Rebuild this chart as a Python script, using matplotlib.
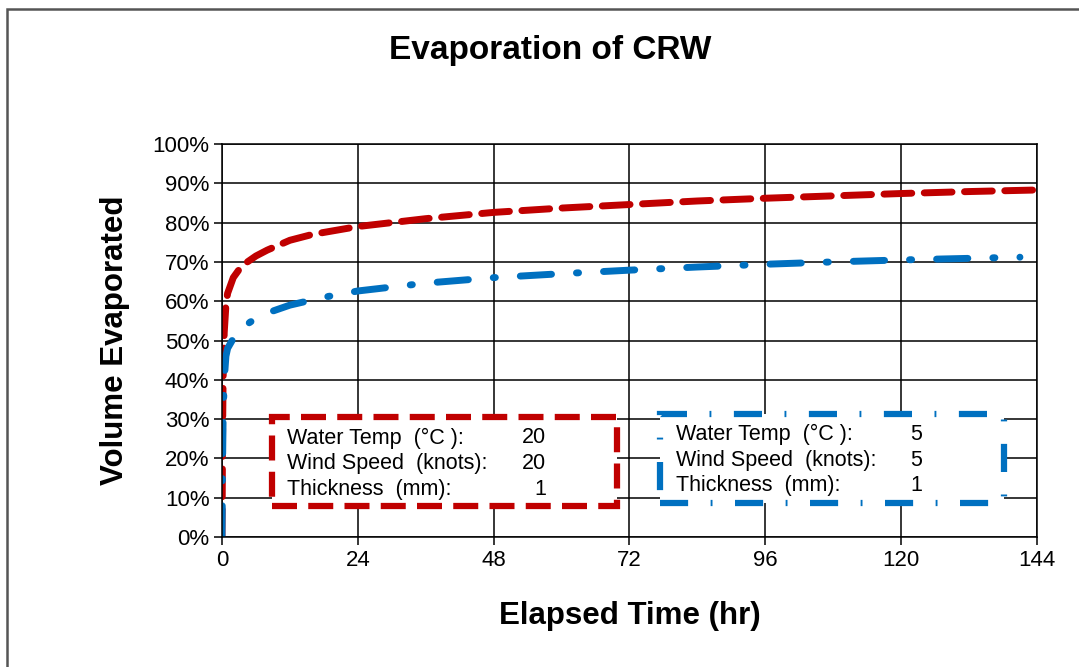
import numpy as np
import matplotlib.pyplot as plt
from matplotlib.patches import Rectangle
from matplotlib.ticker import PercentFormatter

plt.rcParams['font.family'] = ['Liberation Sans', 'DejaVu Sans']

# Evaporation curves (hours, percent evaporated)
red_t = [0, 0.05, 0.1, 0.2, 0.4, 0.7, 1, 2, 3, 4, 6, 8, 12, 16, 24, 36, 48,
         60, 72, 84, 96, 108, 120, 132, 144]
red_v = [0, 10, 25, 40, 52, 59, 62, 66, 68, 69.5, 71.5, 73, 75.5, 77, 79,
         81, 82.6, 83.7, 84.6, 85.5, 86.2, 86.8, 87.4, 87.9, 88.3]

blue_t = [0, 0.05, 0.1, 0.2, 0.4, 0.7, 1, 2, 3, 5, 8, 12, 18, 24, 36, 48,
          60, 72, 84, 96, 108, 120, 132, 141]
blue_v = [0, 8, 18, 30, 40, 46, 48, 50.5, 52.5, 54.7, 57, 59, 61, 62.6,
          64.6, 66, 67, 67.9, 68.7, 69.4, 70, 70.5, 70.9, 71.2]

x_ticks = [0, 24, 48, 72, 96, 120, 144]
y_ticks = [0, 10, 20, 30, 40, 50, 60, 70, 80, 90, 100]

labels = ["Water Temp  (°C ):", "Wind Speed  (knots):", "Thickness  (mm):"]
red_params = ["20", "20", "1"]
blue_params = ["5", "5", "1"]

RED = '#c00000'
BLUE = '#0070c0'
RED_DASH = (0, (4, 1.8))
BLUE_DASH = (0, (4.5, 3.6, 0.3, 3.6))

fig = plt.figure(figsize=(10.79, 6.67), dpi=100)
ax = fig.add_axes([0.2057, 0.1949, 0.7553, 0.5892])

# outer chart frame
fig.patches.append(Rectangle((7 / 1079, -0.05), 1.1, 1 - 9 / 667 + 0.05,
                             transform=fig.transFigure, fill=False,
                             edgecolor='#555555', linewidth=1.8))

ax.plot(red_t, red_v, color=RED, linewidth=5, linestyle=RED_DASH,
        dash_capstyle='round')
ax.plot(blue_t, blue_v, color=BLUE, linewidth=5, linestyle=BLUE_DASH,
        dash_capstyle='round')

ax.set_xlim(0, 144)
ax.set_ylim(0, 100)
ax.set_xticks(x_ticks)
ax.set_yticks(y_ticks)
ax.yaxis.set_major_formatter(PercentFormatter(decimals=0))
ax.grid(True, color='black', linewidth=1.1)
ax.set_axisbelow(True)
for s in ax.spines.values():
    s.set_linewidth(1.1)
ax.tick_params(labelsize=16, length=6, width=1.1, direction='out', pad=3)

fig.text(550 / 1079, 1 - 50 / 667, "Evaporation of CRW", fontsize=24,
         fontweight='bold', ha='center', va='center')
ax.set_xlabel("Elapsed Time (hr)", fontsize=22.5, fontweight='bold',
              labelpad=22)
ax.set_ylabel("Volume Evaporated", fontsize=22.5, fontweight='bold',
              labelpad=16)


def param_box(x0, x1, y0, y1, color, style, values, text_x, val_x):
    ax.add_patch(Rectangle((x0, y0), x1 - x0, y1 - y0, facecolor='white',
                           edgecolor=color, linewidth=4.5, linestyle=style,
                           zorder=3))
    for i, (lab, val) in enumerate(zip(labels, values)):
        y = y1 - 5.3 - i * 6.5
        ax.text(text_x, y, lab, fontsize=15.5, va='center', ha='left', zorder=4)
        ax.text(val_x, y, val, fontsize=15.5, va='center', ha='right', zorder=4)


param_box(8.8, 69.8, 7.9, 30.5, RED, RED_DASH, red_params, 11.5, 57.3)
param_box(77.4, 138.2, 8.6, 31.3, BLUE, BLUE_DASH, blue_params, 80.2, 123.7)

fig.savefig("out.png", dpi=100)
